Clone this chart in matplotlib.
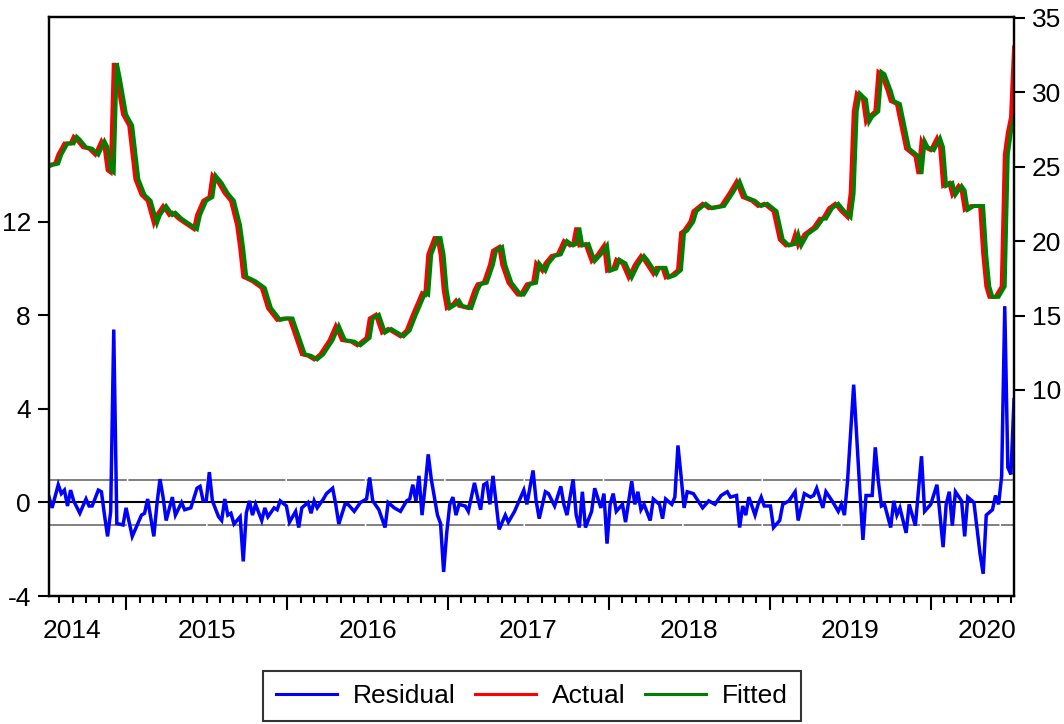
import numpy as np
import matplotlib
matplotlib.use("Agg")
import matplotlib.pyplot as plt
from matplotlib.lines import Line2D
from matplotlib.transforms import blended_transform_factory

# ---------------- data (weekly observations, week 0 = mid 2014) ----------------
START_YEAR = 2014.52
WEEKS_PER_YEAR = 52.18

actual_weeks = [0, 2, 3, 5, 7, 8, 9, 11, 13, 15, 17, 18, 19, 20, 21, 22, 24, 26, 28, 30,
                32, 34, 35, 37, 39, 40, 42, 47, 48, 50, 52, 53, 55, 57, 59, 61, 62, 63, 66, 69,
                71, 74, 76, 78, 80, 82, 84, 86, 88, 91, 93, 95, 98, 100, 103, 104, 106, 108, 110, 114,
                116, 118, 121, 122, 123, 125, 126, 127, 128, 129, 131, 132, 133, 136, 138, 139, 141, 143, 144, 146,
                147, 149, 152, 153, 155, 157, 158, 160, 161, 163, 165, 167, 169, 170, 171, 172, 174, 176, 178, 180,
                181, 183, 184, 186, 188, 190, 192, 193, 196, 197, 199, 200, 202, 204, 205, 206, 208, 209, 212, 214,
                218, 221, 223, 225, 228, 230, 232, 235, 237, 239, 241, 242, 243, 245, 248, 250, 251, 253, 255, 257,
                259, 260, 261, 262, 264, 265, 266, 268, 269, 270, 272, 273, 275, 276, 278, 281, 282, 283, 284, 286,
                288, 289, 290, 292, 293, 295, 296, 297, 299, 302, 303, 304, 305, 307, 309, 310, 311, 312, 313]
actual = [25.1, 25.2, 25.8, 26.55, 26.55, 27.0, 26.8, 26.3, 26.2, 25.8, 26.7, 26.3, 24.75, 24.6, 31.95, 30.9, 28.5, 27.75, 24.15, 23.1,
          22.7, 21.2, 21.75, 22.35, 21.75, 21.9, 21.5, 20.8, 21.75, 22.7, 22.95, 24.4, 23.9, 23.2, 22.7, 21.05, 19.5, 17.6, 17.3, 16.85,
          15.5, 14.7, 14.8, 14.8, 13.6, 12.4, 12.3, 12.05, 12.4, 13.35, 14.3, 13.35, 13.25, 13.0, 13.5, 14.8, 15.05, 13.85, 14.1, 13.6,
          14.0, 15.05, 16.5, 16.4, 19.1, 20.2, 20.2, 19.1, 16.7, 15.5, 15.75, 16.0, 15.65, 15.5, 16.7, 17.1, 17.2, 18.4, 19.35, 19.6,
          18.4, 17.2, 16.4, 16.4, 17.1, 17.2, 18.5, 18.0, 18.5, 19.0, 19.1, 20.0, 19.7, 19.8, 20.9, 19.7, 19.8, 18.65, 19.1, 19.7,
          18.0, 18.15, 18.75, 18.5, 17.55, 18.4, 19.0, 18.75, 17.8, 18.2, 18.2, 17.55, 17.7, 18.05, 20.55, 20.7, 21.3, 22.0, 22.5, 22.2,
          22.35, 23.3, 24.0, 22.95, 22.7, 22.35, 22.5, 22.0, 20.1, 19.7, 19.8, 20.45, 19.7, 20.45, 20.9, 21.5, 21.5, 22.2, 22.5, 22.0,
          21.6, 23.2, 28.7, 29.9, 29.5, 28.0, 28.35, 28.7, 31.35, 31.2, 30.1, 29.4, 29.2, 28.2, 26.2, 25.7, 24.5, 26.7, 26.3, 26.1,
          26.9, 26.3, 23.7, 23.9, 23.1, 23.7, 23.4, 22.1, 22.35, 22.35, 19.1, 16.95, 16.25, 16.25, 16.95, 25.8, 27.3, 28.3, 33.0]

fitted_weeks = [0, 1, 3, 4, 6, 8, 9, 10, 12, 14, 16, 18, 19, 20, 21, 22, 23, 25, 27, 29,
                31, 33, 35, 36, 38, 40, 41, 43, 48, 49, 51, 53, 54, 56, 58, 60, 62, 63, 64, 67,
                70, 72, 75, 77, 79, 81, 83, 85, 87, 89, 92, 94, 96, 99, 101, 104, 105, 107, 109, 111,
                115, 117, 119, 122, 123, 124, 126, 127, 128, 129, 130, 132, 133, 134, 137, 139, 140, 142, 144, 145,
                147, 148, 150, 153, 154, 156, 158, 159, 161, 162, 164, 166, 168, 170, 171, 172, 173, 175, 177, 179,
                181, 182, 184, 185, 187, 189, 191, 193, 194, 197, 198, 200, 201, 203, 205, 206, 207, 209, 210, 213,
                215, 219, 222, 224, 226, 229, 231, 233, 236, 238, 240, 242, 243, 244, 246, 249, 251, 252, 254, 256,
                258, 260, 261, 262, 263, 265, 266, 267, 269, 270, 271, 273, 274, 276, 277, 279, 282, 283, 284, 285,
                287, 289, 290, 291, 293, 294, 296, 297, 298, 300, 303, 304, 305, 306, 308, 310, 311, 312, 313]
fitted = [25.0, 25.1, 25.2, 25.8, 26.55, 26.55, 27.0, 26.8, 26.3, 26.2, 25.8, 26.7, 26.3, 24.75, 24.6, 31.95, 30.9, 28.5, 27.75, 24.15,
          23.1, 22.7, 21.2, 21.75, 22.35, 21.75, 21.9, 21.5, 20.8, 21.75, 22.7, 22.95, 24.4, 23.9, 23.2, 22.7, 21.05, 19.5, 17.6, 17.3,
          16.85, 15.5, 14.7, 14.8, 14.8, 13.6, 12.4, 12.3, 12.05, 12.4, 13.35, 14.3, 13.35, 13.25, 13.0, 13.5, 14.8, 15.05, 13.85, 14.1,
          13.6, 14.0, 15.05, 16.5, 16.4, 19.1, 20.2, 20.2, 19.1, 16.7, 15.5, 15.75, 16.0, 15.65, 15.5, 16.7, 17.1, 17.2, 18.4, 19.35,
          19.6, 18.4, 17.2, 16.4, 16.4, 17.1, 17.2, 18.5, 18.0, 18.5, 19.0, 19.1, 20.0, 19.7, 19.8, 20.9, 19.7, 19.8, 18.65, 19.1,
          19.7, 18.0, 18.15, 18.75, 18.5, 17.55, 18.4, 19.0, 18.75, 17.8, 18.2, 18.2, 17.55, 17.7, 18.05, 20.55, 20.7, 21.3, 22.0, 22.5,
          22.2, 22.35, 23.3, 24.0, 22.95, 22.7, 22.35, 22.5, 22.0, 20.1, 19.7, 19.8, 20.45, 19.7, 20.45, 20.9, 21.5, 21.5, 22.2, 22.5,
          22.0, 21.6, 23.2, 28.7, 29.9, 29.5, 28.0, 28.35, 28.7, 31.35, 31.2, 30.1, 29.4, 29.2, 28.2, 26.2, 25.7, 24.5, 26.7, 26.3,
          26.1, 26.9, 26.3, 23.7, 23.9, 23.1, 23.7, 23.4, 22.1, 22.35, 22.35, 19.1, 16.95, 16.25, 16.25, 16.95, 25.8, 27.3, 28.3]

resid_weeks = [0, 1, 3, 4, 5, 6, 7, 8, 10, 12, 13, 14, 16, 17, 18, 19, 20, 21, 22, 24,
               25, 27, 30, 31, 32, 34, 35, 36, 37, 38, 40, 41, 43, 44, 46, 48, 49, 50, 51, 52,
               53, 55, 56, 57, 58, 59, 60, 62, 63, 64, 65, 66, 67, 69, 70, 71, 73, 74, 75, 77,
               78, 80, 81, 82, 84, 85, 86, 87, 89, 90, 92, 93, 94, 96, 97, 99, 101, 103, 104, 105,
               107, 109, 110, 112, 114, 116, 117, 118, 119, 120, 121, 122, 123, 124, 126, 127, 128, 129, 130, 131,
               132, 133, 135, 136, 138, 139, 140, 141, 142, 143, 144, 145, 146, 148, 149, 151, 152, 154, 155, 157,
               158, 159, 161, 162, 164, 166, 167, 168, 170, 171, 172, 173, 174, 176, 177, 179, 180, 181, 182, 183,
               184, 186, 187, 189, 190, 191, 192, 193, 195, 196, 198, 199, 200, 202, 203, 204, 205, 206, 207, 209,
               212, 214, 216, 218, 220, 221, 223, 224, 225, 226, 227, 229, 230, 231, 232, 234, 235, 237, 238, 240,
               242, 243, 245, 247, 248, 249, 251, 252, 254, 256, 257, 258, 259, 261, 263, 264, 265, 267, 268, 269,
               270, 271, 273, 274, 275, 276, 278, 279, 281, 283, 284, 286, 288, 289, 290, 291, 292, 293, 294, 296,
               297, 298, 300, 302, 303, 304, 306, 307, 308, 309, 310, 311, 312, 313]
residual = [0.23, -0.23, 0.76, 0.38, 0.53, -0.15, 0.53, 0.07, -0.46, 0.15, -0.15, -0.15, 0.53, 0.46, -0.54, -1.45, -0.4, 7.4, -0.9, -0.96,
            -0.23, -1.45, -0.54, -0.46, 0.15, -1.45, -0.08, 1.0, 0.23, -0.77, 0.23, -0.54, 0.0, -0.31, -0.23, 0.61, 0.69, 0.07, 0.07, 1.3,
            0.07, -0.61, -0.77, 0.15, -0.54, -0.46, -0.92, -0.61, -2.52, -0.45, 0.07, -0.54, -0.08, -0.77, -0.23, -0.61, -0.23, -0.31, 0.07, -0.15,
            -0.84, -0.38, -1.07, -0.23, 0.0, -0.46, 0.07, -0.23, 0.15, 0.38, 0.61, -0.08, -0.92, -0.08, -0.08, -0.38, 0.0, 0.15, 1.07, 0.07,
            -0.31, -1.07, 0.0, -0.23, -0.38, 0.07, 0.15, 0.76, 0.07, 1.14, -0.54, 0.69, 2.06, 0.99, -0.54, -0.9, -2.97, -1.3, -0.08, 0.23,
            -0.54, -0.08, -0.15, -0.38, 0.84, 0.23, -0.31, 0.76, 0.84, -0.08, 1.14, 0.0, -1.15, -0.54, -0.84, -0.38, -0.08, 0.53, -0.08, 1.37,
            0.07, -0.69, 0.46, 0.38, -0.15, 0.69, -0.08, -0.54, 0.99, -0.54, -1.07, 0.46, -1.07, -0.38, 0.61, -0.23, 0.38, -1.76, -0.08, 0.38,
            -0.38, -0.08, -0.84, 0.91, -0.08, 0.46, -0.31, -0.08, -0.77, 0.15, -0.08, -0.69, 0.15, -0.08, 0.23, 2.44, 1.14, -0.23, 0.46, 0.38,
            -0.23, 0.07, -0.08, 0.3, 0.46, 0.23, 0.3, -1.07, -0.15, -0.54, 0.23, -0.54, -0.08, 0.23, -0.15, -0.15, -1.07, -0.77, -0.08, 0.07,
            0.46, -0.77, 0.38, 0.23, 0.3, 0.61, -0.23, 0.46, 0.07, -0.38, -0.08, -0.54, 0.9, 5.04, 0.5, -1.6, 0.3, 0.3, 2.36, 0.91,
            -0.15, -0.08, -1.07, 0.07, -0.54, -0.23, -1.3, -0.08, -0.99, 1.98, -0.38, -0.08, 0.76, -0.54, -1.91, -0.08, 0.46, -0.99, 0.46, 0.07,
            -1.45, 0.23, 0.0, -2.21, -3.05, -0.54, -0.31, 0.3, -0.08, 1.14, 8.4, 1.5, 1.2, 4.4]
resid_se = 0.98

year_labels = ['2014', '2015', '2016', '2017', '2018', '2019', '2020']
left_ticks = [-4, 0, 4, 8, 12]
right_ticks = [10, 15, 20, 25, 30, 35]
series_names = ['Residual', 'Actual', 'Fitted']

# ---------------- drawing ----------------
plt.rcParams['font.family'] = ['Liberation Sans', 'DejaVu Sans']

def to_year(w):
    return START_YEAR + np.asarray(w, dtype=float) / WEEKS_PER_YEAR

t_act = to_year(actual_weeks)
t_fit = to_year(fitted_weeks)
t_res = to_year(resid_weeks)

BLUE, RED, GREEN = '#0000FF', '#FF0000', '#008000'
FS = 19

fig = plt.figure(figsize=(10.64, 7.24), dpi=100)
ax = fig.add_axes([49 / 1064, 128 / 724, 965 / 1064, 579 / 724])
ax2 = ax.twinx()

ax.axhline(0, color='black', lw=1.5, zorder=2)
for s in (resid_se, -resid_se):
    ax.axhline(s, color='#808080', lw=1.4, ls=(0, (40, 0.8)), zorder=2)
ax.plot(t_res, residual, color=BLUE, lw=2.5, zorder=3, solid_joinstyle='miter')

ax2.plot(t_act, actual, color=RED, lw=2.8, solid_joinstyle='miter')
ax2.plot(t_fit, fitted, color=GREEN, lw=2.8, solid_joinstyle='miter')

x0, x1 = t_act[0], t_act[-1]
ax.set_xlim(x0, x1)
ax.set_ylim(-4, 20.77)
ax2.set_ylim(-3.83, 35.04)

# x ticks: years (major) and months (minor)
first_year = int(np.floor(x0))
last_year = int(np.floor(x1))
years = [y for y in range(first_year, last_year + 1) if x0 <= y <= x1]
months = [y + m / 12 for y in range(first_year, last_year + 1) for m in range(1, 12)
          if x0 <= y + m / 12 <= x1]
ax.set_xticks(years)
ax.set_xticks(months, minor=True)
ax.set_xticklabels([])
ax.tick_params(axis='x', which='major', length=10, width=1.5, direction='out')
ax.tick_params(axis='x', which='minor', length=5, width=1.5, direction='out')

trans = blended_transform_factory(ax.transData, ax.transAxes)
for lab in year_labels:
    y = int(lab)
    pos = y + 0.5
    if y == first_year:
        pos = x0 + 0.14
    elif y == last_year:
        pos = x1 - 0.17
    ax.text(pos, -0.0725, lab, transform=trans, ha='center', va='baseline', fontsize=FS)

ax.set_yticks(left_ticks)
ax.set_yticklabels([str(v) for v in left_ticks])
ax.tick_params(axis='y', length=8, width=1.5, labelsize=FS, pad=5)
ax2.set_yticks(right_ticks)
ax2.set_yticklabels([str(v) for v in right_ticks])
ax2.tick_params(axis='y', length=8, width=1.5, labelsize=FS, pad=5)

for a in (ax, ax2):
    for sp in a.spines.values():
        sp.set_linewidth(1.6)
        sp.set_color('black')

handles = [Line2D([], [], color=c, lw=2.2) for c in (BLUE, RED, GREEN)]
leg = fig.legend(handles, series_names, loc='lower center', bbox_to_anchor=(0.5, 0.004),
                 ncol=3, fontsize=FS, frameon=True, fancybox=False, edgecolor='black',
                 handlelength=2.3, handletextpad=0.6, columnspacing=0.75,
                 borderpad=0.5, borderaxespad=0)
leg.get_frame().set_linewidth(1.5)

fig.savefig('out.png', dpi=100)
